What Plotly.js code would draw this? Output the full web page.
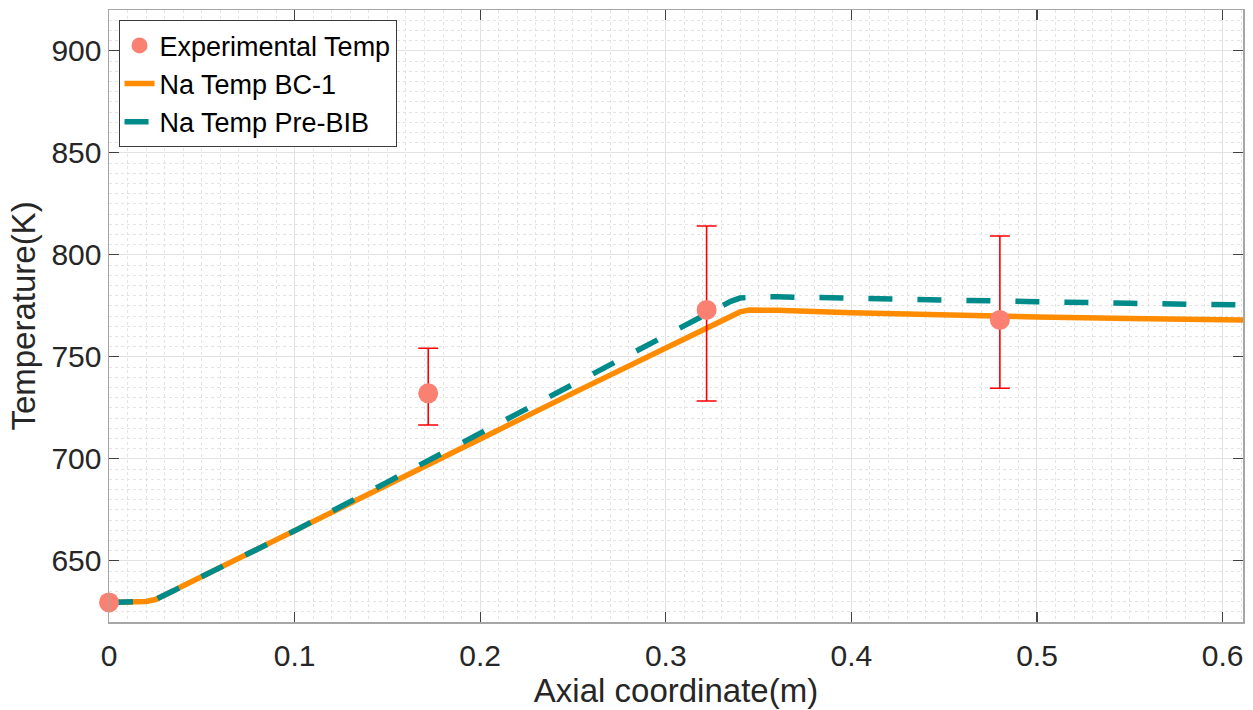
<!DOCTYPE html>
<html>
<head>
<meta charset="utf-8">
<script src="https://cdn.plot.ly/plotly-3.0.1.min.js"></script>
<style>
  html, body { margin: 0; padding: 0; background: #ffffff; }
  #chart { width: 1253px; height: 710px; }
</style>
</head>
<body>
<div id="chart"></div>
<script>
// Measured sodium temperatures along the channel, with asymmetric uncertainty
const expX = [0, 0.172, 0.322, 0.480];
const expT = [629.6, 732.1, 773.0, 768.1];
const expErrPlus = [0, 22.1, 41.1, 41.1];
const expErrMinus = [0, 15.5, 44.7, 33.5];

// Axial positions of the simulated profiles
const axialX = [0, 0.01, 0.015, 0.02, 0.025, 0.03, 0.035, 0.04, 0.06, 0.1, 0.15, 0.2, 0.25, 0.3,
                0.32, 0.33, 0.335, 0.34, 0.345, 0.35, 0.36, 0.4, 0.45, 0.5, 0.55, 0.611];

// Simulated Na temperature, BC-1 boundary condition
const tempBC1 = [629.6, 629.6, 629.7, 630.1, 631.0, 633.0, 635.4, 637.8, 646.7, 664.7, 687.2, 709.7, 732.2, 754.7,
                 763.7, 768.0, 770.2, 772.0, 772.9, 773.0, 772.8, 771.6, 770.4, 769.5, 768.8, 768.0];

// Simulated Na temperature, Pre-BIB case
const tempPreBIB = [629.6, 629.6, 629.7, 630.1, 631.0, 633.0, 635.4, 637.8, 646.7, 664.7, 688.6, 712.5, 736.6, 760.7,
                    770.3, 775.0, 777.2, 778.8, 779.4, 779.5, 779.4, 778.9, 778.0, 777.0, 776.2, 775.4];

const FONT = 'Liberation Sans, Arial, sans-serif';
const TXT = '#262626';

// Profiles first, experimental points last so they sit on top
const traces = [
  {
    x: axialX, y: tempBC1, name: 'Na Temp BC-1', type: 'scatter', mode: 'lines',
    line: { color: '#FF8C00', width: 5.5 }, legendrank: 2
  },
  {
    x: axialX, y: tempPreBIB, name: 'Na Temp Pre-BIB', type: 'scatter', mode: 'lines',
    line: { color: '#008B8B', width: 5.5, dash: '24px,25px' }, legendrank: 3
  },
  {
    x: expX, y: expT, name: 'Experimental Temp', type: 'scatter', mode: 'markers',
    marker: { color: '#FA8072', size: 20 },
    error_y: { type: 'data', symmetric: false, array: expErrPlus, arrayminus: expErrMinus,
               color: '#FF0000', thickness: 1.6, width: 10 },
    cliponaxis: false, legendrank: 1
  }
];

const axisCommon = {
  showline: true, linecolor: '#a6a6a6', linewidth: 1.5, mirror: 'ticks',
  ticks: 'inside', ticklen: 10, tickcolor: '#404040', tickwidth: 1.2,
  showgrid: true, gridcolor: '#e2e2e2', gridwidth: 1,
  zeroline: false,
  tickfont: { family: FONT, size: 30, color: TXT }
};

const layout = {
  width: 1253, height: 710,
  margin: { l: 108.5, r: 10, t: 9.5, b: 88 },
  paper_bgcolor: '#ffffff', plot_bgcolor: '#ffffff',
  font: { family: FONT, color: TXT, size: 30 },
  showlegend: true,
  legend: {
    x: 0.0084, y: 0.983, xanchor: 'left', yanchor: 'top',
    bgcolor: '#ffffff', bordercolor: '#3a3a3a', borderwidth: 1,
    font: { family: FONT, size: 27, color: '#000000' },
    traceorder: 'normal'
  },
  xaxis: Object.assign({}, axisCommon, {
    range: [0, 0.611], dtick: 0.1, tick0: 0,
    ticklabelstandoff: 6,
    minor: { dtick: 0.01, showgrid: true, gridcolor: '#e4e4e4', griddash: 'dot', gridwidth: 1, ticks: '' },
    title: { text: 'Axial coordinate(m)', font: { family: FONT, size: 33, color: TXT }, standoff: 8 }
  }),
  yaxis: Object.assign({}, axisCommon, {
    range: [620, 920], dtick: 50, tick0: 650,
    minor: { dtick: 5, showgrid: true, gridcolor: '#e4e4e4', griddash: 'dot', gridwidth: 1, ticks: '' },
    title: { text: 'Temperature(K)', font: { family: FONT, size: 33, color: TXT }, standoff: 6 }
  })
};

Plotly.newPlot('chart', traces, layout, { displayModeBar: false, staticPlot: true });
</script>
</body>
</html>
